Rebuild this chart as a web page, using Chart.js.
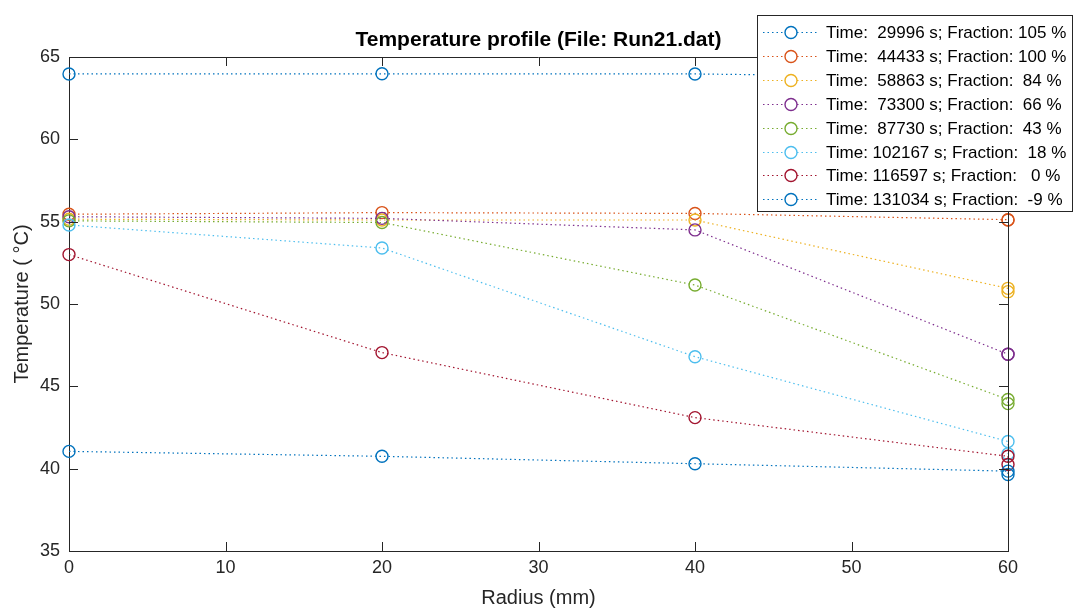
<!DOCTYPE html>
<html>
<head>
<meta charset="utf-8">
<script src="https://cdn.jsdelivr.net/npm/chart.js@4.4.1/dist/chart.umd.min.js"></script>
<style>
  html, body { margin: 0; padding: 0; background: #fff; }
  #wrap { width: 1074px; height: 610px; position: relative; }
</style>
</head>
<body>
<div id="wrap"><canvas id="chart"></canvas></div>
<script>
// 半径 (mm) — 外周 60 mm は 2 点ずつ
const radius = [0, 20, 40, 60, 60];

const seriesLabels = [
    "Time:  29996 s; Fraction: 105 %",
    "Time:  44433 s; Fraction: 100 %",
    "Time:  58863 s; Fraction:  84 %",
    "Time:  73300 s; Fraction:  66 %",
    "Time:  87730 s; Fraction:  43 %",
    "Time: 102167 s; Fraction:  18 %",
    "Time: 116597 s; Fraction:   0 %",
    "Time: 131034 s; Fraction:  -9 %",
];

const t29996 = [63.97, 63.98, 63.97, 63.75, 63.7];
const t44433 = [55.45, 55.55, 55.5, 55.12, 55.1];
const t58863 = [55.15, 55.1, 55.1, 50.95, 50.75];
const t73300 = [55.3, 55.2, 54.5, 46.95, 46.95];
const t87730 = [55.05, 54.95, 51.15, 44.2, 43.95];
const t102167 = [54.8, 53.4, 46.8, 41.65, 40.9];
const t116597 = [53.0, 47.05, 43.1, 40.75, 40.25];
const t131034 = [41.05, 40.75, 40.3, 39.85, 39.65];

const seriesValues = [t29996, t44433, t58863, t73300, t87730, t102167, t116597, t131034];
const seriesColors = ["#0072BD", "#D95319", "#EDB120", "#7E2F8E", "#77AC30", "#4DBEEE", "#A2142F", "#0072BD"];

const yTicks = [35, 40, 45, 50, 55, 60, 65];
const xTicks = [0, 10, 20, 30, 40, 50, 60];

const AXIS_COLOR = "#262626";
const FONT = "'Liberation Sans', Arial, sans-serif";
const DASH = [1.5, 3];
const MARKER_R = 6;

const datasets = seriesValues.map((vals, i) => ({
    label: seriesLabels[i],
    data: vals.map((v, j) => ({ x: radius[j], y: v })),
    borderColor: seriesColors[i],
    backgroundColor: "rgba(0,0,0,0)",
    borderWidth: 1.2,
    borderDash: DASH,
    pointStyle: "circle",
    pointRadius: MARKER_R,
    pointBorderWidth: 1.4,
    pointBorderColor: seriesColors[i],
    pointBackgroundColor: "rgba(0,0,0,0)",
    tension: 0,
    clip: false,
    order: seriesValues.length - i, // 後のシリーズを上に描画
}));

// 枠・内向き目盛り・タイトル・凡例を描く
const framePlugin = {
    id: "frame",
    afterDraw(chart) {
        const ctx = chart.ctx;
        const { left, right, top, bottom } = chart.chartArea;
        const xs = chart.scales.x;
        const ys = chart.scales.y;
        const tl = 9;
        ctx.save();
        ctx.strokeStyle = AXIS_COLOR;
        ctx.lineWidth = 1;
        ctx.setLineDash([]);
        ctx.beginPath();
        ctx.moveTo(left, top + 0.5); ctx.lineTo(right, top + 0.5);
        ctx.moveTo(right + 0.5, top); ctx.lineTo(right + 0.5, bottom);
        xTicks.forEach(v => {
            const px = Math.round(xs.getPixelForValue(v)) + 0.5;
            ctx.moveTo(px, bottom); ctx.lineTo(px, bottom - tl);
            ctx.moveTo(px, top); ctx.lineTo(px, top + tl);
        });
        yTicks.forEach(v => {
            const py = Math.round(ys.getPixelForValue(v)) + 0.5;
            ctx.moveTo(left, py); ctx.lineTo(left + tl, py);
            ctx.moveTo(right, py); ctx.lineTo(right - tl, py);
        });
        ctx.stroke();

        // タイトル
        ctx.fillStyle = "#000";
        ctx.font = "bold 21px " + FONT;
        ctx.textAlign = "center";
        ctx.textBaseline = "middle";
        ctx.fillText("Temperature profile (File: Run21.dat)", (left + right) / 2, 40);

        // 凡例
        const bx = 757.5, by = 15.5, bw = 315, bh = 196;
        ctx.fillStyle = "#fff";
        ctx.fillRect(bx, by, bw, bh);
        ctx.strokeStyle = AXIS_COLOR;
        ctx.strokeRect(bx, by, bw, bh);
        ctx.font = "17px " + FONT;
        ctx.textAlign = "left";
        seriesLabels.forEach((lab, i) => {
            const ry = Math.round(32 + i * 23.9) + 0.5;
            ctx.strokeStyle = seriesColors[i];
            ctx.lineWidth = 1.2;
            ctx.setLineDash(DASH);
            ctx.beginPath();
            ctx.moveTo(763, ry); ctx.lineTo(785, ry);
            ctx.moveTo(797, ry); ctx.lineTo(819, ry);
            ctx.stroke();
            ctx.setLineDash([]);
            ctx.lineWidth = 1.4;
            ctx.beginPath();
            ctx.arc(791, ry, MARKER_R, 0, Math.PI * 2);
            ctx.stroke();
            ctx.fillStyle = "#000";
            ctx.fillText(lab, 826, ry + 1);
        });
        ctx.restore();
    }
};

new Chart(document.getElementById("chart").getContext("2d"), {
    type: "line",
    data: { datasets: datasets },
    options: {
        responsive: true,
        maintainAspectRatio: false,
        animation: false,
        layout: { padding: { top: 57, right: 66, left: 0, bottom: 0 } },
        plugins: {
            legend: { display: false },
            title: { display: false },
            tooltip: { enabled: false },
        },
        scales: {
            x: {
                type: "linear",
                min: 0,
                max: 60,
                afterFit: s => { s.height = 59; },
                afterBuildTicks: s => { s.ticks = xTicks.map(v => ({ value: v })); },
                grid: { display: false, drawTicks: false },
                border: { display: true, color: AXIS_COLOR, width: 1 },
                ticks: { color: AXIS_COLOR, font: { family: FONT, size: 18 }, padding: 6, maxRotation: 0 },
                title: {
                    display: true,
                    text: "Radius (mm)",
                    color: AXIS_COLOR,
                    font: { family: FONT, size: 20 },
                    padding: { top: 0, bottom: 0 },
                },
            },
            y: {
                type: "linear",
                min: 35,
                max: 65,
                afterFit: s => { s.width = 69; },
                afterBuildTicks: s => { s.ticks = yTicks.map(v => ({ value: v })); },
                grid: { display: false, drawTicks: false },
                border: { display: true, color: AXIS_COLOR, width: 1 },
                ticks: { color: AXIS_COLOR, font: { family: FONT, size: 18 }, padding: 9 },
                title: {
                    display: true,
                    text: "Temperature ( °C)",
                    color: AXIS_COLOR,
                    font: { family: FONT, size: 20 },
                    padding: { top: 10, bottom: 0 },
                },
            },
        },
    },
    plugins: [framePlugin],
});
</script>
</body>
</html>
